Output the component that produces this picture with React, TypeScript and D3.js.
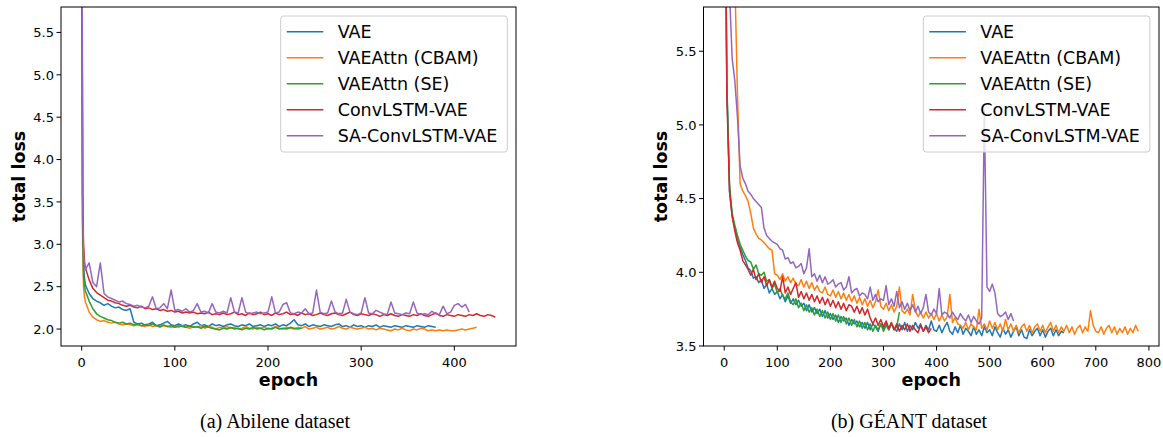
import * as d3 from "d3";

const SERIES_NAMES = ["VAE", "VAEAttn (CBAM)", "VAEAttn (SE)", "ConvLSTM-VAE", "SA-ConvLSTM-VAE"];
const SERIES_COLORS = ["#1f77b4", "#ff7f0e", "#2ca02c", "#d62728", "#9467bd"];

// Abilene: first four values are epochs 0..3, the rest are every 4 epochs
const abileneVae = [
  8.0, 3.3, 2.75, 2.6,
  2.52, 2.42, 2.36, 2.33, 2.31, 2.28, 2.3, 2.27, 2.25, 2.26, 2.23, 2.22, 2.24, 2.08,
  2.06, 2.07, 2.05, 2.06, 2.08, 2.04, 2.05, 2.07, 2.09, 2.05,
  2.04, 2.06, 2.04, 2.05, 2.03, 2.06, 2.08, 2.04, 2.05, 2.03,
  2.06, 2.04, 2.05, 2.03, 2.05, 2.06, 2.04, 2.03, 2.05, 2.04,
  2.06, 2.03, 2.04, 2.05, 2.03, 2.05, 2.04, 2.06, 2.03, 2.05,
  2.04, 2.07, 2.11, 2.05, 2.04, 2.06, 2.03, 2.05, 2.04, 2.03,
  2.05, 2.04, 2.03, 2.05, 2.06, 2.03, 2.04, 2.02, 2.05, 2.03,
  2.04, 2.02, 2.04, 2.03, 2.05, 2.02, 2.04, 2.03, 2.02, 2.04,
  2.03, 2.02, 2.04, 2.03, 2.02, 2.04, 2.03, 2.02, 2.04, 2.03,
  2.02,
];
const abileneCbam = [
  8.0, 3.0, 2.5, 2.38,
  2.32, 2.2, 2.14, 2.11, 2.09, 2.1, 2.08, 2.07, 2.08, 2.06, 2.05, 2.06, 2.05, 2.04,
  2.05, 2.04, 2.03, 2.05, 2.03, 2.04, 2.02, 2.04, 2.03, 2.02,
  2.03, 2.02, 2.04, 2.02, 2.01, 2.03, 2.02, 2.04, 2.01, 2.03,
  2.02, 2.0, 2.02, 2.01, 2.03, 2.01, 2.02, 2.0, 2.01, 2.03,
  2.01, 2.0, 2.02, 2.01, 2.02, 2.0, 2.01, 2.03, 2.01, 2.0,
  2.02, 2.01, 2.0, 2.02, 2.01, 2.03, 2.0, 2.01, 2.02, 2.0,
  2.01, 2.02, 2.0, 2.01, 2.03, 2.01, 2.0, 2.02, 2.01, 2.0,
  2.01, 2.02, 2.0, 2.01, 1.99, 2.01, 2.0, 1.99, 1.98, 2.0,
  1.99, 2.01, 1.99, 1.98, 2.0, 1.99, 2.01, 2.0, 1.98, 1.99,
  1.98, 1.99, 1.98, 1.99, 1.98, 1.98, 1.99, 2.0, 1.99, 2.0,
  2.01, 2.02,
];
const abileneSe = [
  8.0, 3.2, 2.62, 2.5,
  2.45, 2.33, 2.24, 2.18, 2.15, 2.13, 2.11, 2.1, 2.08, 2.07, 2.08, 2.06, 2.07, 2.05,
  2.06, 2.04, 2.05, 2.04, 2.06, 2.04, 2.03, 2.05, 2.03, 2.04,
  2.02, 2.04, 2.03, 2.02, 2.04, 2.02, 2.03, 2.01, 2.03, 2.02,
  2.01, 2.0, 1.99, 2.01, 2.0, 2.02, 2.0, 2.01, 1.99, 2.01,
  2.0, 2.02, 2.0, 2.01, 1.99, 2.01, 2.0, 2.02, 2.0, 2.01,
  2.0, 2.02, 2.01, 2.0, 2.01,
];
const abileneConvLstm = [
  9.0, 3.6, 3.0, 2.8,
  2.72, 2.58, 2.48, 2.43, 2.4, 2.37, 2.34, 2.33, 2.31, 2.3, 2.28, 2.27, 2.28, 2.26,
  2.25, 2.27, 2.24, 2.25, 2.23, 2.24, 2.22, 2.23, 2.21, 2.22,
  2.2, 2.21, 2.19, 2.2, 2.19, 2.2, 2.18, 2.19, 2.18, 2.2,
  2.17, 2.18, 2.17, 2.19, 2.17, 2.18, 2.2, 2.17, 2.18, 2.16,
  2.19, 2.17, 2.18, 2.2, 2.17, 2.18, 2.16, 2.19, 2.17, 2.18,
  2.2, 2.17, 2.18, 2.16, 2.19, 2.17, 2.18, 2.16, 2.17, 2.19,
  2.17, 2.16, 2.18, 2.19, 2.17, 2.16, 2.18, 2.2, 2.17, 2.16,
  2.18, 2.17, 2.16, 2.18, 2.17, 2.15, 2.17, 2.16, 2.18, 2.16,
  2.15, 2.17, 2.16, 2.15, 2.17, 2.16, 2.18, 2.16, 2.15, 2.17,
  2.19, 2.16, 2.15, 2.17, 2.16, 2.15, 2.17, 2.16, 2.15, 2.17,
  2.16, 2.18, 2.16, 2.15, 2.17, 2.16, 2.14,
];
const abileneSaConvLstm = [
  9.0, 3.5, 2.9, 2.75,
  2.7, 2.78, 2.55, 2.5, 2.78, 2.42, 2.38, 2.36, 2.34, 2.32, 2.33, 2.3, 2.29, 2.27,
  2.28, 2.26, 2.25, 2.27, 2.38, 2.24, 2.25, 2.3, 2.24, 2.46,
  2.22, 2.23, 2.21, 2.24, 2.2, 2.22, 2.3, 2.2, 2.21, 2.19,
  2.3, 2.2, 2.19, 2.21, 2.19, 2.37, 2.2, 2.19, 2.37, 2.2,
  2.18, 2.19, 2.2, 2.18, 2.19, 2.2, 2.38, 2.19, 2.2, 2.29,
  2.31, 2.19, 2.18, 2.2, 2.19, 2.24, 2.18, 2.19, 2.46, 2.2,
  2.18, 2.19, 2.33, 2.2, 2.18, 2.19, 2.35, 2.2, 2.18, 2.17,
  2.19, 2.37, 2.19, 2.18, 2.22, 2.2, 2.18, 2.17, 2.32, 2.19,
  2.18, 2.17, 2.19, 2.18, 2.32, 2.19, 2.17, 2.18, 2.17, 2.21,
  2.18, 2.17, 2.27, 2.18, 2.2, 2.28, 2.3, 2.26, 2.29, 2.2,
];

// GÉANT: one value every 5 epochs
const geantVae = [
  7.5, 5.3, 4.55, 4.38, 4.3, 4.22, 4.17, 4.12, 4.08, 4.03,
  4.01, 3.96, 3.97, 3.93, 3.95, 3.89, 3.92, 3.86, 3.89, 3.85,
  3.87, 3.82, 3.85, 3.8, 3.84, 3.79, 3.82, 3.78, 3.81, 3.77,
  3.79, 3.74, 3.78, 3.73, 3.76, 3.72, 3.75, 3.7, 3.74, 3.69,
  3.72, 3.68, 3.71, 3.66, 3.7, 3.67, 3.69, 3.64, 3.68, 3.65,
  3.67, 3.63, 3.66, 3.62, 3.66, 3.61, 3.65, 3.63, 3.6, 3.65,
  3.62, 3.66, 3.61, 3.65, 3.62, 3.6, 3.65, 3.61, 3.66, 3.6,
  3.64, 3.61, 3.66, 3.62, 3.65, 3.6, 3.64, 3.61, 3.67, 3.61,
  3.6, 3.64, 3.59, 3.63, 3.66, 3.6, 3.58, 3.63, 3.59, 3.64,
  3.58, 3.62, 3.6, 3.57, 3.63, 3.58, 3.61, 3.57, 3.63, 3.59,
  3.61, 3.57, 3.63, 3.59, 3.56, 3.62, 3.58, 3.61, 3.56, 3.6,
  3.63, 3.57, 3.61, 3.56, 3.55, 3.61, 3.57, 3.6, 3.62, 3.57,
  3.61, 3.56, 3.6, 3.62, 3.57, 3.61, 3.57, 3.6, 3.59,
];
const geantCbam = [
  8.0, 7.5, 7.0, 6.6, 6.0, 5.2, 4.6, 4.55, 4.52, 4.48,
  4.4, 4.3, 4.26, 4.23, 4.22, 4.2, 4.18, 4.16, 4.15, 3.99,
  3.98, 3.95, 3.99, 3.94, 3.97, 3.93, 3.96, 3.92, 3.91, 3.95,
  3.9, 3.94, 3.89, 3.93, 3.88, 3.91, 3.87, 3.86, 3.9, 3.85,
  3.84, 3.88, 3.83, 3.87, 3.82, 3.86, 3.81, 3.85, 3.8, 3.84,
  3.79, 3.83, 3.78, 3.82, 3.77, 3.81, 3.76, 3.8, 3.88, 3.77,
  3.75, 3.79, 3.74, 3.78, 3.73, 3.77, 3.9, 3.74, 3.72, 3.75,
  3.71, 3.85, 3.74, 3.7, 3.73, 3.69, 3.73, 3.69, 3.72, 3.68,
  3.72, 3.67, 3.71, 3.67, 3.7, 3.85, 3.66, 3.69, 3.65, 3.64,
  3.62, 3.66, 3.61, 3.65, 3.63, 3.61, 3.75, 3.62, 3.65, 3.61,
  3.67, 3.62, 3.66, 3.61, 3.65, 3.6, 3.68, 3.61, 3.65, 3.6,
  3.64, 3.59, 3.63, 3.65, 3.6, 3.64, 3.59, 3.63, 3.65, 3.6,
  3.64, 3.59, 3.63, 3.66, 3.6, 3.64, 3.59, 3.63, 3.6, 3.64,
  3.59, 3.63, 3.58, 3.62, 3.64, 3.59, 3.63, 3.6, 3.74, 3.64,
  3.6, 3.59, 3.63, 3.58, 3.62, 3.64, 3.59, 3.63, 3.58, 3.62,
  3.59, 3.63, 3.58, 3.62, 3.59, 3.64, 3.6,
];
const geantSe = [
  7.5, 5.25, 4.6, 4.4, 4.32, 4.25, 4.19, 4.15, 4.11, 4.08,
  4.07, 4.02, 4.05, 3.99, 3.98, 4.0, 3.94, 3.95, 3.89, 3.92,
  3.86, 3.89, 3.84, 3.82, 3.86, 3.8, 3.78, 3.82, 3.76, 3.79,
  3.74, 3.78, 3.73, 3.76, 3.71, 3.75, 3.7, 3.74, 3.69, 3.73,
  3.68, 3.72, 3.67, 3.71, 3.66, 3.7, 3.65, 3.69, 3.64, 3.68,
  3.63, 3.67, 3.62, 3.66, 3.61, 3.65, 3.6, 3.64, 3.61, 3.65,
  3.6, 3.64, 3.61, 3.65, 3.61, 3.63, 3.73,
];
const geantConvLstm = [
  7.5, 5.2, 4.55, 4.38, 4.28, 4.2, 4.15, 4.08, 4.05, 4.02,
  3.98, 4.02, 3.95, 3.99, 3.93, 3.97, 3.91, 3.95, 3.9, 3.94,
  3.89, 3.87, 3.97, 3.86, 3.9, 3.85, 3.89, 3.93, 3.83, 3.87,
  3.82, 3.86, 3.81, 3.85, 3.8, 3.84, 3.79, 3.83, 3.78, 3.82,
  3.77, 3.81, 3.76, 3.8, 3.75, 3.79, 3.74, 3.78, 3.77, 3.73,
  3.77, 3.72, 3.76, 3.71, 3.75, 3.69, 3.65, 3.69, 3.64, 3.68,
  3.63, 3.67, 3.62, 3.66, 3.61, 3.65, 3.6, 3.64, 3.61, 3.65,
  3.6, 3.64, 3.61, 3.59, 3.64, 3.6, 3.63, 3.59, 3.62,
];
const geantSaConvLstm = [
  8.0, 7.0, 5.9, 5.45, 5.3, 5.05, 4.72, 4.64, 4.6, 4.55,
  4.53, 4.5, 4.48, 4.46, 4.44, 4.3, 4.25, 4.23, 4.21, 4.2,
  4.19, 4.16, 4.15, 4.09, 4.1, 4.06, 4.07, 4.03, 4.04, 4.06,
  3.99, 4.03, 4.16, 3.97, 3.99, 3.94, 3.98, 3.93, 3.97, 3.92,
  3.93, 3.95, 3.9, 3.92, 3.93, 3.88, 3.9, 3.97, 3.86, 3.88,
  3.89, 3.84, 3.86, 3.85, 3.82, 3.9, 3.81, 3.85, 3.8, 3.82,
  3.81, 3.91, 3.78, 3.82, 3.77, 3.87, 3.76, 3.8, 3.75, 3.79,
  3.74, 3.78, 3.73, 3.77, 3.72, 3.76, 3.85, 3.73, 3.71, 3.75,
  3.72, 3.89, 3.71, 3.73, 3.72, 3.69, 3.73, 3.7, 3.68, 3.72,
  3.69, 3.67, 3.71, 3.66, 3.7, 3.67, 3.65, 3.69, 5.1, 3.9,
  3.87, 3.92, 3.86, 3.72, 3.7, 3.71, 3.73, 3.68, 3.72, 3.67,
];

const abileneXTicks = [0, 100, 200, 300, 400];
const abileneYTicks = [2.0, 2.5, 3.0, 3.5, 4.0, 4.5, 5.0, 5.5];
const geantXTicks = [0, 100, 200, 300, 400, 500, 600, 700, 800];
const geantYTicks = [3.5, 4.0, 4.5, 5.0, 5.5];

const abileneEpoch = (i: number) => (i < 4 ? i : (i - 3) * 4);
const geantEpoch = (i: number) => i * 5;

const FONT = "DejaVu Sans, sans-serif";

type PanelProps = {
  id: string;
  series: number[][];
  epochOf: (i: number) => number;
  yDomain: [number, number];
  xTicks: number[];
  yTicks: number[];
  left: number;
  right: number;
  legendX: number;
  yLabelX: number;
  caption: string;
  captionX: number;
};

const TOP = 7;
const BOTTOM = 346;

function Panel(p: PanelProps) {
  const epochs = p.series.flatMap((s) => s.map((_, i) => p.epochOf(i)));
  const [e0, e1] = d3.extent(epochs) as [number, number];
  const pad = (e1 - e0) * 0.05;
  const x = d3.scaleLinear().domain([e0 - pad, e1 + pad]).range([p.left, p.right]);
  const y = d3.scaleLinear().domain(p.yDomain).range([BOTTOM, TOP]);
  const line = d3
    .line<number>()
    .x((_, i) => x(p.epochOf(i)))
    .y((d) => y(d));
  const fmt = d3.format(".1f");
  const cx = (p.left + p.right) / 2;

  return (
    <g>
      <defs>
        <clipPath id={p.id}>
          <rect x={p.left} y={TOP} width={p.right - p.left} height={BOTTOM - TOP} />
        </clipPath>
      </defs>
      <g clipPath={`url(#${p.id})`}>
        {p.series.map((s, k) => (
          <path key={k} d={line(s) || ""} fill="none" stroke={SERIES_COLORS[k]} strokeWidth={1.5} strokeLinejoin="round" />
        ))}
      </g>
      <rect x={p.left} y={TOP} width={p.right - p.left} height={BOTTOM - TOP} fill="none" stroke="#000" strokeWidth={1} />
      {p.xTicks.map((t) => (
        <g key={t}>
          <line x1={x(t)} x2={x(t)} y1={BOTTOM} y2={BOTTOM + 4.5} stroke="#000" />
          <text x={x(t)} y={367} textAnchor="middle" fontFamily={FONT} fontSize={13} fill="#000">
            {t}
          </text>
        </g>
      ))}
      {p.yTicks.map((t) => (
        <g key={t}>
          <line x1={p.left - 4.5} x2={p.left} y1={y(t)} y2={y(t)} stroke="#000" />
          <text x={p.left - 7} y={y(t) + 4.7} textAnchor="end" fontFamily={FONT} fontSize={13} fill="#000">
            {fmt(t)}
          </text>
        </g>
      ))}
      <text x={cx} y={386} textAnchor="middle" fontFamily={FONT} fontWeight="bold" fontSize={17.5}>
        epoch
      </text>
      <text
        transform={`translate(${p.yLabelX},${(TOP + BOTTOM) / 2}) rotate(-90)`}
        textAnchor="middle"
        fontFamily={FONT}
        fontWeight="bold"
        fontSize={17.5}
      >
        total loss
      </text>
      <g>
        <rect x={p.legendX} y={16} width={226.6} height={136} rx={3} fill="#fff" fillOpacity={0.8} stroke="#cccccc" />
        {SERIES_NAMES.map((name, k) => {
          const yc = 31.7 + k * 26;
          return (
            <g key={name}>
              <line x1={p.legendX + 6} x2={p.legendX + 42.6} y1={yc} y2={yc} stroke={SERIES_COLORS[k]} strokeWidth={1.5} />
              <text x={p.legendX + 57} y={yc + 6.3} fontFamily={FONT} fontSize={17.5} fill="#000">
                {name}
              </text>
            </g>
          );
        })}
      </g>
      <text x={p.captionX} y={428} textAnchor="middle" fontFamily="Liberation Serif, serif" fontSize={20}>
        {p.caption}
      </text>
    </g>
  );
}

export default function App() {
  return (
    <svg width={1163} height={437} style={{ position: "absolute", left: 0, top: 0, background: "#fff" }}>
      <Panel
        id="clip-abilene"
        series={[abileneVae, abileneCbam, abileneSe, abileneConvLstm, abileneSaConvLstm]}
        epochOf={abileneEpoch}
        yDomain={[1.8, 5.8]}
        xTicks={abileneXTicks}
        yTicks={abileneYTicks}
        left={61}
        right={516}
        legendX={280.7}
        yLabelX={25}
        caption="(a) Abilene dataset"
        captionX={275}
      />
      <Panel
        id="clip-geant"
        series={[geantVae, geantCbam, geantSe, geantConvLstm, geantSaConvLstm]}
        epochOf={geantEpoch}
        yDomain={[3.5, 5.8]}
        xTicks={geantXTicks}
        yTicks={geantYTicks}
        left={703.5}
        right={1159}
        legendX={923.3}
        yLabelX={667}
        caption="(b) GÉANT dataset"
        captionX={909}
      />
    </svg>
  );
}
